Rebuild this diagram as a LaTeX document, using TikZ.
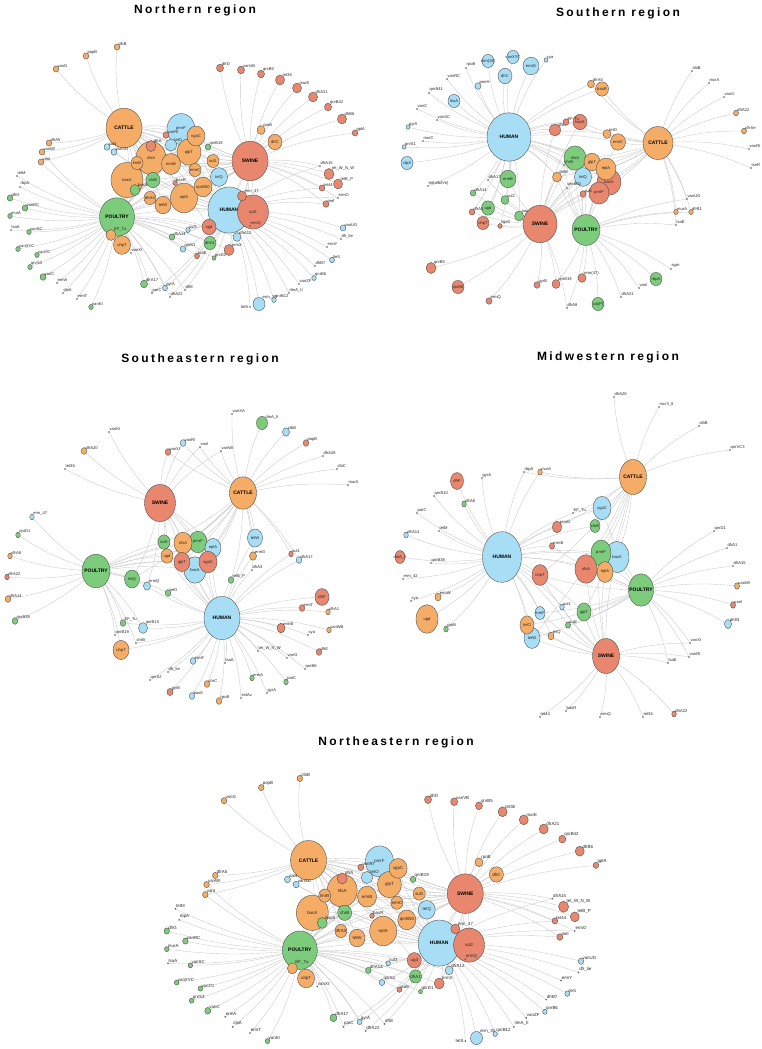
\documentclass[tikz,border=0pt]{standalone}
\usepackage{fontspec}
\setmainfont{Liberation Sans}
\newfontfamily\ttl{Liberation Sans}[LetterSpace=20]
\usetikzlibrary{shapes.geometric}
\pgfdeclarelayer{bgw}
\pgfdeclarelayer{bg}
\pgfsetlayers{bgw,bg,main}
\definecolor{cO}{RGB}{245,172,102}
\definecolor{cB}{RGB}{168,222,245}
\definecolor{cG}{RGB}{124,204,124}
\definecolor{cR}{RGB}{233,135,110}
\definecolor{cE}{RGB}{202,202,202}
\definecolor{cL}{RGB}{70,70,70}
\def\lbsz{4.1}
\def\ky{1.1}
\tikzset{
 gn/.style={ellipse,draw=cL,line width=0.35pt,inner sep=0pt,outer sep=0pt},
 ed/.style={draw=cE,line width=0.35pt},
 lb/.style={font=\fontsize{\lbsz}{\lbsz}\selectfont,inner sep=0.2pt,text=black!85},
 hl/.style={font=\fontsize{5}{5}\selectfont\bfseries,inner sep=0pt},
 dt/.style={circle,fill=black!65,minimum size=1.8pt,inner sep=0pt},
 tt/.style={font=\ttl\bfseries\fontsize{12}{12}\selectfont,inner sep=0pt},
}
\newcommand\Hn[6]{\node[gn,fill=#5,minimum width={2*#4*1pt},minimum height={2*#4*\ky*1pt},label={[hl]center:#6}] (#1) at (#2,#3) {};}
\newcommand\Gn[6]{\node[gn,fill=#5,minimum width={2*#4*1pt},minimum height={2*#4*\ky*1pt},label={[lb]center:#6}] (#1) at (#2,#3) {};}
\newcommand\Sn[6]{\node[gn,fill=#5,minimum width={2*#4*1pt},minimum height={2*#4*\ky*1pt},label={[lb,label distance=-1.2pt]50:#6}] (#1) at (#2,#3) {};}
\newcommand\Dn[4]{\node[dt,label={[lb,label distance=-0.3pt]70:#4}] (#1) at (#2,#3) {};}
\newcommand\Dl[5]{\node[dt,label={[lb,label distance=0.3pt]#5:#4}] (#1) at (#2,#3) {};}
\newcommand\E[2]{\foreach \g in {#2}{\draw[ed] (#1) to[bend left=7] (\g);}}

\newcommand\northnet{%
\Hn{cat}{124}{128}{18}{cO}{CATTLE}
\Hn{pou}{117}{217}{17.5}{cG}{POULTRY}
\Hn{swi}{250}{161}{18}{cR}{SWINE}
\Hn{hum}{229}{210}{21}{cB}{HUMAN}
\Gn{sul2}{253}{212}{15.5}{cR}{sul2}
\Gn{pmrF}{181}{129}{14}{cB}{pmrF}
\Gn{glpT}{189}{152}{12}{cO}{glpT}
\Gn{vgaC}{196}{136}{9}{cO}{vgaC}
\Gn{nfsA}{151}{158}{15}{cO}{nfsA}
\Gn{bacA}{127}{180}{16}{cO}{bacA}
\Gn{ermB}{171}{164}{9.5}{cO}{ermB}
\Gn{eptA}{184}{198}{13.5}{cO}{eptA}
\Gn{qnrB50}{203}{187}{9}{cO}{qnrB50}
\Gn{tetQ}{219}{177}{8.5}{cB}{tetQ}
\Gn{tetW}{163}{205}{8}{cO}{tetW}
\Gn{ugd}{209}{227}{7}{cR}{ugd}
\Gn{uhpT}{122}{245}{8.5}{cO}{uhpT}
\Gn{dfrC}{275}{142}{7}{cO}{dfrC}
\Gn{chrB}{153}{180}{7}{cG}{chrB}
\Gn{dfrA1}{210}{243}{6}{cG}{dfrA1}
\Gn{ermC}{195}{170}{6}{cO}{ermC}
\Gn{sul1}{213}{161}{6}{cO}{sul1}
\Gn{dfrA3}{150}{198}{6}{cO}{dfrA3}
\Gn{lmrB}{137}{163}{6}{cO}{lmrB}
\Sn{erm30}{259}{304}{6}{cB}{erm\_30}
\Sn{tetO}{171}{145}{5.5}{cB}{tetO}
\Sn{dfrA}{151}{146}{5}{cR}{dfrA}
\Sn{basS}{135}{190}{5}{cG}{basS}
\Sn{EFTu}{111}{235}{5}{cO}{EF\_Tu}
\Sn{ermX}{229}{250}{5}{cR}{ermX}
\Sn{tetWNW}{329}{174}{5}{cR}{tet\_W\_N\_W}
\Sn{erm47}{242}{196}{4.5}{cR}{erm\_47}
\Sn{tetBP}{338}{184}{4.5}{cR}{tetB\_P}
\Sn{tet36}{280}{80}{4.5}{cR}{tet36}
\Sn{murE}{297}{88}{4.5}{cR}{murE}
\Sn{dfrA21}{313}{97}{4.5}{cR}{dfrA21}
\Sn{dfrB6}{342}{119}{4.5}{cR}{dfrB6}
\Sn{dfrA12}{237}{237}{4}{cB}{dfrA12}
\Sn{rpoB}{261}{130}{4}{cO}{rpoB}
\Sn{dfrD}{220}{68}{3.5}{cR}{dfrD}
\Sn{vanVB}{241}{70}{3.5}{cR}{vanVB}
\Sn{qnrB5}{261}{74}{3.5}{cR}{qnrB5}
\Sn{qnrB42}{328}{107}{3.5}{cR}{qnrB42}
\Sn{dfrA17}{144}{284}{3.5}{cG}{dfrA17}
\Sn{vanRI}{166}{135}{3}{cR}{vanRI}
\Sn{mel}{326}{204}{3}{cR}{mel}
\Sn{vanC}{43}{277}{3}{cG}{vanC}
\Sn{sat4}{107}{147}{3}{cB}{sat4}
\Sn{vanSD}{114}{152}{3}{cB}{vanSD}
\Sn{vanG}{56}{69}{2.8}{cO}{vanG}
\Sn{popB}{86}{56}{2.8}{cO}{popB}
\Sn{clbB}{117}{47}{2.8}{cO}{clbB}
\Sn{dfrA5}{49}{143}{2.8}{cO}{dfrA5}
\Sn{vanWI}{42}{152}{2.8}{cO}{vanWI}
\Sn{vanI}{41}{162}{2.8}{cO}{vanI}
\Sn{dfrG}{10}{198}{2.8}{cG}{dfrG}
\Sn{vanRC}{25}{208}{2.8}{cG}{vanRC}
\Sn{murA}{10}{216}{2.3}{cG}{murA}
\Sn{vanSC}{29}{232}{2.3}{cG}{vanSC}
\Sn{vanXYC}{18}{249}{2.3}{cG}{vanXYC}
\Sn{vanTC}{37}{255}{2.3}{cG}{vanTC}
\Sn{qnrS3}{30}{267}{2.3}{cG}{qnrS3}
\Sn{vanKI}{91}{307}{2.3}{cG}{vanKI}
\Sn{gyrA}{165}{288}{2.5}{cB}{gyrA}
\Sn{dfrA14}{172}{237}{2.8}{cG}{dfrA14}
\Sn{sul3}{188}{230}{2.3}{cB}{sul3}
\Sn{qnrS1}{183}{249}{2.8}{cB}{qnrS1}
\Sn{lsaE}{197}{256}{2.5}{cR}{lsaE}
\Sn{qnrD1}{214}{258}{2}{cG}{qnrD1}
\Sn{qnrB19}{208}{147}{2.8}{cG}{qnrB19}
\Sn{basR}{175}{183}{2.3}{cR}{basR}
\Sn{gptA}{355}{133}{2.8}{cR}{gptA}
\Sn{tet44}{322}{188}{2.8}{cR}{tet44}
\Sn{vanUG}{343}{228}{2.8}{cB}{vanUG}
\Sn{ileS}{332}{260}{2.5}{cB}{ileS}
\Sn{qnrB6}{314}{278}{2.3}{cB}{qnrB6}
\Sn{qnrB12}{274}{300}{2.3}{cB}{qnrB12}
\Dn{tetM}{17}{176}{tetM}
\Dn{rbpA}{20}{187}{rbpA}
\Dn{lsaA}{11}{230}{lsaA}
\Dn{ermA}{57}{283}{ermA}
\Dn{clpA}{63}{293}{clpA}
\Dn{ermT}{77}{299}{ermT}
\Dn{vanXI}{131}{253}{vanXI}
\Dn{parC}{152}{293}{parC}
\Dn{dfrA22}{170}{297}{dfrA22}
\Dn{dfrE}{185}{290}{dfrE}
\Dn{dfrA15}{320}{166}{dfrA15}
\Dn{ermO}{338}{198}{ermO}
\Dn{dfrlie}{341}{239}{dfr\_lie}
\Dn{ermY}{327}{247}{ermY}
\Dn{dfrB7}{315}{266}{dfrB7}
\Dn{vanZF}{299}{284}{vanZF}
\Dn{rlmA}{289}{293}{rlmA\_II}
\Dl{tetS}{250}{307}{tetS}{180}
\Dn{ermQ}{250}{226}{ermQ}
\begin{pgfonlayer}{bg}
\E{cat}{vanG,popB,clbB,dfrA5,vanWI,vanI,sat4,vanSD,pmrF,vgaC,vanRI,tetO,dfrA,nfsA,glpT,qnrB19,ermB,ermC,sul1,tetQ,qnrB50,eptA,tetW,dfrA3,chrB,bacA,lmrB,basS,ugd}
\E{pou}{vanWI,vanI,tetM,rbpA,dfrG,vanRC,murA,lsaA,vanSC,vanXYC,vanTC,qnrS3,vanC,ermA,clpA,ermT,vanKI,dfrA17,parC,gyrA,dfrA22,dfrE,EFTu,uhpT,vanXI,pmrF,vgaC,dfrA,nfsA,glpT,ermB,ermC,qnrB50,basR,eptA,tetW,dfrA3,chrB,bacA,lmrB,basS,sul2,ugd,dfrA1,dfrA12,ermX,qnrD1,lsaE,sul3,qnrS1,dfrA14}
\E{swi}{dfrD,vanVB,qnrB5,tet36,murE,dfrA21,qnrB42,dfrB6,gptA,rpoB,dfrC,dfrA15,tetWNW,tetBP,tet44,ermO,mel,pmrF,vgaC,vanRI,dfrA,nfsA,glpT,qnrB19,ermB,ermC,sul1,tetQ,qnrB50,basR,eptA,tetW,bacA,lmrB,erm47,ugd,dfrA12,ermX,lsaE,ermQ}
\E{hum}{vanUG,dfrlie,ermY,ileS,dfrB7,qnrB6,vanZF,rlmA,qnrB12,erm30,tetS,gyrA,dfrA22,dfrE,dfrA15,tet44,mel,ermO,parC,pmrF,vgaC,tetO,nfsA,glpT,ermB,ermC,sul1,tetQ,qnrB50,eptA,tetW,dfrA3,chrB,bacA,sat4,vanSD,erm47,ugd,dfrA1,dfrA12,ermX,qnrD1,sul3,qnrS1,dfrA14,ermQ}
\end{pgfonlayer}
}

\begin{document}
\begin{tikzpicture}[x=1pt,y=-1pt]
\begin{pgfonlayer}{bgw}
\fill[white] (0,0) rectangle (762,1049);
\end{pgfonlayer}
\useasboundingbox (0,0) rectangle (762,1049);

\node[tt] (t1) at (195,10) {Northern region};
\node[tt] (t2) at (618,13) {Southern region};
\node[tt] (t3) at (200,359) {Southeastern region};
\node[tt] (t4) at (608,357) {Midwestern region};
\node[tt] (t5) at (396,742) {Northeastern region};

% Northern
\begin{scope}[name prefix=n-]
\northnet
\end{scope}

% Northeastern
\begin{scope}[name prefix=ne-,shift={(154.3,731)},xscale=1.244,yscale=1.01]
\def\lbsz{4.4}
\northnet
\end{scope}

% Southern
\begin{scope}[name prefix=s-]
\def\ky{1.1}
\Hn{hum}{509}{137}{22}{cB}{HUMAN}
\Hn{swi}{540}{224}{17}{cR}{SWINE}
\Hn{pou}{586}{230}{14}{cG}{POULTRY}
\Hn{cat}{658}{143}{15}{cO}{CATTLE}
\Gn{nfsA}{575}{158}{11}{cG}{nfsA}
\Gn{glpT}{592}{162}{8}{cO}{glpT}
\Gn{bacA}{609}{182}{12}{cR}{bacA}
\Gn{eptA}{606}{169}{10}{cO}{eptA}
\Gn{pmrF}{599}{193}{10}{cR}{pmrF}
\Gn{tetQ}{583}{177}{8.5}{cB}{tetQ}
\Gn{ermC}{618}{142}{7.5}{cO}{ermC}
\Gn{basS}{580}{122}{7}{cR}{basS}
\Gn{basR}{602}{89}{6.5}{cO}{basR}
\Gn{ermB}{508}{179}{8}{cG}{ermB}
\Gn{ugd}{488}{208}{6.5}{cG}{ugd}
\Gn{uhpT}{483}{223}{6}{cR}{uhpT}
\Gn{clpA}{407}{163}{6}{cB}{clpA}
\Gn{lnuA}{454}{101}{6}{cB}{lnuA}
\Gn{dfrC}{505}{76}{7}{cB}{dfrC}
\Gn{ermG}{531}{66}{8}{cB}{ermG}
\Gn{vanXYC}{513}{57}{6}{cB}{vanXYC}
\Gn{erm36}{488}{61}{6}{cB}{erm(36)}
\Gn{qnrB6}{458}{287}{6}{cR}{qnrB6}
\Gn{rbpA}{656}{279}{6}{cG}{rbpA}
\Gn{satP}{598}{304}{6}{cG}{sat(P)}
\Sn{dfrA}{555}{130}{5.5}{cR}{dfrA}
\Sn{EFTu}{566}{122}{3}{cR}{EF-Tu}
\Sn{tetO}{607}{134}{4}{cO}{tetO}
\Sn{dfrA5}{591}{84}{3.5}{cO}{dfrA5}
\Sn{cya}{546}{60}{2}{cB}{cya}
\Sn{pmrH}{478}{86}{3}{cB}{pmrH}
\Sn{gyrA}{408}{127}{2}{cB}{gyrA}
\Sn{qnrS1}{404}{147}{2}{cB}{qnrS1}
\Sn{dfrA14}{473}{193}{2.8}{cG}{dfrA14}
\Sn{sul2}{505}{200}{4}{cG}{sul2}
\Sn{dfrA1}{472}{212}{2.8}{cR}{dfrA1}
\Sn{vgaC}{500}{226}{2.2}{cR}{vgaC}
\Sn{aac}{519}{216}{4.5}{cG}{aac}
\Sn{qnrB5}{431}{268}{5}{cR}{qnrB5}
\Sn{ermQ}{489}{301}{3}{cR}{ermQ}
\Sn{gyrB}{537}{285}{3}{cR}{gyrB}
\Sn{qnrB19}{556}{284}{4}{cR}{qnrB19}
\Sn{tetW}{557}{177}{4.5}{cO}{tetW}
\Sn{sul1}{583}{194}{3}{cR}{sul1}
\Sn{dfrA22}{736}{113}{2.5}{cO}{dfrA22}
\Sn{dfrlie}{744}{131}{2.5}{cO}{dfr-lie}
\Sn{murA}{676}{212}{2.3}{cO}{murA}
\Sn{dfrB1}{691}{212}{2.3}{cO}{dfrB1}
\Sn{erm47}{582}{278}{4}{cR}{erm(47)}
\Dn{rpoB}{466}{68}{rpoB}
\Dn{vanRC}{447}{79}{vanRC}
\Dn{qnrB41}{429}{93}{qnrB41}
\Dn{vanC}{417}{109}{vanC}
\Dn{vanSC}{437}{120}{vanSC}
\Dn{msrC}{423}{141}{msrC}
\Dn{tetabhe}{428}{186}{tet(a/b/h/e)}
\Dn{dfrA17}{488}{180}{dfrA17}
\Dn{chrB}{564}{165}{chrB}
\Dn{qnrB50}{567}{188}{qnrB50}
\Dn{clbB}{692}{71}{clbB}
\Dn{mcrA}{709}{83}{mcrA}
\Dn{vanO}{724}{97}{vanO}
\Dn{vanRI}{749}{149}{vanRI}
\Dn{tsnR}{751}{168}{tsnR}
\Dn{vanUG}{687}{199}{vanUG}
\Dn{lsaE}{676}{225}{lsaE}
\Dn{sgm}{671}{269}{sgm}
\Dn{vanI}{639}{288}{vanI}
\Dn{dfrA21}{621}{297}{dfrA21}
\Dn{dfrA8}{567}{308}{dfrA8}
\begin{pgfonlayer}{bg}
\E{hum}{cya,ermG,vanXYC,erm36,rpoB,dfrC,pmrH,vanRC,qnrB41,lnuA,vanC,vanSC,gyrA,msrC,qnrS1,clpA,tetabhe,dfrA17,ermB,dfrA14,sul2,ugd,dfrA1,uhpT,vgaC,EFTu,basS,dfrA,tetO,ermC,nfsA,glpT,eptA,bacA,pmrF,tetQ,chrB,tetW,qnrB50,dfrA5,basR,aac}
\E{swi}{qnrB5,qnrB6,ermQ,gyrB,qnrB19,dfrA8,ermB,dfrA14,ugd,dfrA1,uhpT,vgaC,aac,sul2,dfrA17,basS,dfrA,nfsA,glpT,eptA,bacA,pmrF,tetQ,chrB,tetW,qnrB50,sul1}
\E{pou}{sgm,rbpA,vanI,dfrA21,erm47,satP,dfrA8,vanUG,murA,dfrB1,lsaE,nfsA,glpT,eptA,bacA,pmrF,tetQ,chrB,tetW,qnrB50,sul1,ermC,qnrB19}
\E{cat}{clbB,mcrA,vanO,dfrA22,dfrlie,vanRI,tsnR,vanUG,murA,dfrB1,lsaE,dfrA5,basR,EFTu,basS,tetO,ermC,nfsA,glpT,eptA,bacA,pmrF,tetQ,tetW,sul1}
\end{pgfonlayer}
\end{scope}

% Southeastern
\begin{scope}[name prefix=se-]
\def\ky{1.2}
\Hn{swi}{160}{503}{15.5}{cR}{SWINE}
\Hn{cat}{243}{493}{13.5}{cO}{CATTLE}
\Hn{pou}{96}{571}{14}{cG}{POULTRY}
\Hn{hum}{222}{618}{18}{cB}{HUMAN}
\Gn{tetQ}{132}{579}{7.5}{cG}{tetQ}
\Gn{uhpT}{121}{650}{8}{cO}{uhpT}
\Gn{bacA}{195}{570}{11}{cB}{bacA}
\Gn{pmrF}{198}{542}{9}{cG}{pmrF}
\Gn{eptA}{213}{548}{8}{cB}{eptA}
\Gn{vgaC}{208}{562}{9}{cR}{vgaC}
\Gn{nfsA}{183}{543}{9}{cO}{nfsA}
\Gn{sul2}{164}{542}{6}{cG}{sul2}
\Gn{ugd}{167}{556}{6}{cO}{ugd}
\Gn{glpT}{182}{562}{8}{cR}{glpT}
\Gn{tetW}{255}{538}{7.5}{cB}{tetW}
\Gn{dfrF}{322}{597}{7}{cR}{dfrF}
\Sn{rlmA}{262}{423}{5.5}{cG}{rlmA\_II}
\Sn{dfrA20}{84}{451}{2.8}{cO}{dfrA20}
\Sn{vanRI}{183}{443}{2.8}{cB}{vanRI}
\Sn{vanXI}{168}{452}{2.8}{cR}{vanXI}
\Sn{erm47}{32}{517}{2.3}{cB}{erm\_47}
\Sn{qnrD1}{18}{535}{2.3}{cG}{qnrD1}
\Sn{dfrA8}{10}{556}{2.3}{cO}{dfrA8}
\Sn{dfrA22}{7}{577}{2.3}{cR}{dfrA22}
\Sn{dfrA14}{8}{599}{2.8}{cO}{dfrA14}
\Sn{qnrB38}{15}{621}{2.8}{cG}{qnrB38}
\Sn{ermQ}{147}{586}{3.5}{cB}{ermQ}
\Sn{tetO}{168}{593}{2.8}{cG}{tetO}
\Sn{EFTu}{123}{623}{2.8}{cG}{EF\_Tu}
\Sn{qnrB10}{143}{628}{4.5}{cB}{qnrB10}
\Sn{gyrB}{170}{692}{3}{cR}{gyrB}
\Sn{clbB}{286}{432}{3.5}{cB}{clbB}
\Sn{popB}{306}{443}{2.8}{cR}{popB}
\Sn{ermG}{253}{556}{3.5}{cO}{ermG}
\Sn{tetBP}{231}{580}{2.8}{cG}{tetB\_P}
\Sn{sul1}{291}{554}{2.3}{cR}{sul1}
\Sn{dfrA17}{299}{560}{2.8}{cB}{dfrA17}
\Sn{ermT}{302}{608}{2.8}{cR}{ermT}
\Sn{dfrA1}{328}{612}{2.3}{cO}{dfrA1}
\Sn{ermB}{281}{628}{4}{cR}{ermB}
\Sn{vanWB}{329}{630}{2.3}{cO}{vanWB}
\Sn{dfrE}{319}{652}{2.8}{cR}{dfrE}
\Sn{ermF}{193}{661}{2.8}{cB}{ermF}
\Sn{ermA}{252}{678}{2.3}{cG}{ermA}
\Sn{parC}{286}{682}{2.3}{cG}{parC}
\Sn{chrC}{207}{684}{2.8}{cO}{chrC}
\Sn{basS}{192}{696}{2.8}{cB}{basS}
\Sn{rpoB}{219}{701}{2.8}{cO}{rpoB}
\Dn{vanKI}{109}{432}{vanKI}
\Dn{tet36}{65}{469}{tet36}
\Dn{qnrB19}{115}{635}{qnrB19}
\Dn{chrB}{136}{643}{chrB}
\Dn{dfrlie}{168}{672}{dfr\_lie}
\Dn{qnrS2}{150}{680}{qnrS2}
\Dn{vanXA}{232}{414}{vanXA}
\Dn{dfrA26}{323}{456}{dfrA26}
\Dn{clbC}{337}{469}{clbC}
\Dn{murA}{348}{485}{murA}
\Dn{vanI}{200}{447}{vanI}
\Dn{vanWI}{221}{451}{vanWI}
\Dn{dfrA3}{252}{570}{dfrA3}
\Dn{cya}{308}{635}{cya}
\Dn{tetWNW}{258}{651}{tet\_W\_N\_W}
\Dn{vanG}{287}{658}{vanG}
\Dn{qnrB6}{305}{669}{qnrB6}
\Dn{lsaA}{225}{663}{lsaA}
\Dn{gyrA}{267}{693}{gyrA}
\Dn{estAv}{241}{698}{estAv}
\begin{pgfonlayer}{bg}
\E{swi}{vanKI,dfrA20,tet36,vanRI,vanXI,vanI,vanWI,sul2,nfsA,ugd,glpT,bacA,pmrF,eptA,vgaC,tetQ,ermQ}
\E{cat}{vanXA,rlmA,clbB,popB,dfrA26,clbC,murA,vanI,vanWI,vanRI,vanXI,tetW,ermG,dfrA3,sul1,dfrA17,tetBP,sul2,nfsA,ugd,glpT,bacA,pmrF,eptA,vgaC,tetQ}
\E{pou}{erm47,qnrD1,dfrA8,dfrA22,dfrA14,qnrB38,tetQ,ermQ,EFTu,qnrB10,qnrB19,chrB,uhpT,tetO,sul2,nfsA,ugd,glpT,bacA,pmrF,eptA,vgaC}
\E{hum}{dfrF,ermT,dfrA1,ermB,cya,vanWB,dfrE,tetWNW,vanG,qnrB6,ermF,lsaA,ermA,parC,chrC,gyrA,basS,estAv,rpoB,dfrlie,qnrS2,gyrB,qnrB10,chrB,EFTu,tetO,ermQ,tetBP,sul1,dfrA17,tetW,ermG,dfrA3,sul2,nfsA,ugd,glpT,bacA,pmrF,eptA,vgaC,uhpT}
\end{pgfonlayer}
\end{scope}

% Midwestern
\begin{scope}[name prefix=mw-]
\def\ky{1.3}
\Hn{hum}{502}{557}{19.5}{cB}{HUMAN}
\Hn{cat}{633}{477}{13.5}{cO}{CATTLE}
\Hn{pou}{641}{590}{12.5}{cG}{POULTRY}
\Hn{swi}{606}{656}{13.5}{cR}{SWINE}
\Gn{dfrF}{457}{481}{6.5}{cR}{dfrF}
\Gn{rlmA}{400}{557}{5}{cR}{rlmA\_II}
\Gn{ugd}{427}{619}{11}{cO}{ugd}
\Gn{uhpT}{540}{575}{8}{cR}{uhpT}
\Gn{tetW}{532}{638}{8}{cB}{tetW}
\Gn{tetO}{527}{625}{7}{cO}{tetO}
\Gn{ermF}{540}{613}{5}{cB}{ermF}
\Gn{vgaC}{602}{508}{9}{cB}{vgaC}
\Gn{chrB}{595}{526}{5}{cG}{chrB}
\Gn{bacA}{617}{557}{12}{cB}{bacA}
\Gn{pmrF}{601}{553}{10}{cG}{pmrF}
\Gn{nfsA}{586}{569}{11}{cR}{nfsA}
\Gn{eptA}{605}{572}{8}{cO}{eptA}
\Gn{glpT}{584}{612}{7}{cG}{glpT}
\Sn{dfrA8}{464}{504}{2.3}{cG}{dfrA8}
\Sn{murA}{540}{472}{2.3}{cO}{murA}
\Sn{dfrA14}{406}{535}{2.3}{cB}{dfrA14}
\Sn{ermW}{438}{597}{3}{cO}{ermW}
\Sn{rpoB}{446}{629}{2.3}{cG}{rpoB}
\Sn{ermG}{557}{527}{4.5}{cR}{ermG}
\Sn{ermB}{552}{546}{2.5}{cR}{ermB}
\Sn{sul1}{562}{607}{2.3}{cB}{sul1}
\Sn{tetQ}{551}{636}{3}{cO}{tetQ}
\Sn{sul2}{568}{625}{2.5}{cG}{sul2}
\Sn{vanWI}{737}{586}{2.5}{cO}{vanWI}
\Sn{vanI}{733}{605}{2.5}{cR}{vanI}
\Sn{dfrB1}{728}{624}{3.5}{cB}{dfrB1}
\Sn{dfrA22}{674}{714}{2.3}{cR}{dfrA22}
\Dn{gyrA}{482}{478}{gyrA}
\Dn{qnrB10}{434}{496}{qnrB10}
\Dn{rbpA}{524}{472}{rbpA}
\Dn{parC}{417}{513}{parC}
\Dn{tetM}{439}{531}{tetM}
\Dn{qnrB38}{431}{563}{qnrB38}
\Dn{erm42}{403}{579}{erm\_42}
\Dn{cya}{411}{601}{cya}
\Dn{dfrA20}{614}{397}{dfrA20}
\Dn{mcr38}{659}{407}{mcr3\_8}
\Dn{clbB}{699}{426}{clbB}
\Dn{qnrVC3}{730}{450}{qnrVC3}
\Dn{EFTu}{573}{513}{EF\_Tu}
\Dn{qnrD1}{714}{531}{qnrD1}
\Dn{dfrA1}{727}{548}{dfrA1}
\Dn{dfrA15}{733}{566}{dfrA15}
\Dn{vanXI}{690}{643}{vanXI}
\Dn{vanRI}{689}{657}{vanRI}
\Dn{lsaE}{668}{663}{lsaE}
\Dn{tet44}{540}{717}{tet44}
\Dn{basR}{566}{711}{basR}
\Dn{ermQ}{600}{717}{ermQ}
\Dn{tet36}{643}{717}{tet36}
\begin{pgfonlayer}{bg}
\E{hum}{dfrF,gyrA,qnrB10,dfrA8,rbpA,murA,parC,tetM,dfrA14,rlmA,qnrB38,erm42,cya,ermW,ugd,rpoB,ermG,ermB,uhpT,tetO,tetW,ermF,tetQ,sul1,sul2,glpT,nfsA,pmrF,bacA,eptA,vgaC,chrB,EFTu}
\E{cat}{dfrA20,mcr38,clbB,qnrVC3,rbpA,murA,vgaC,chrB,pmrF,bacA,nfsA,eptA,glpT,uhpT,ermG,EFTu,tetW}
\E{pou}{qnrD1,dfrA1,dfrA15,vanWI,vanI,dfrB1,vanXI,vanRI,lsaE,vgaC,pmrF,bacA,nfsA,eptA,glpT,sul2,tetO,tetW,ermF,uhpT,ermB}
\E{swi}{tet44,basR,ermQ,tet36,dfrA22,vanXI,vanRI,lsaE,glpT,sul2,sul1,tetO,tetW,ermF,tetQ,nfsA,pmrF,eptA,bacA,uhpT}
\end{pgfonlayer}
\end{scope}
\end{tikzpicture}
\end{document}
